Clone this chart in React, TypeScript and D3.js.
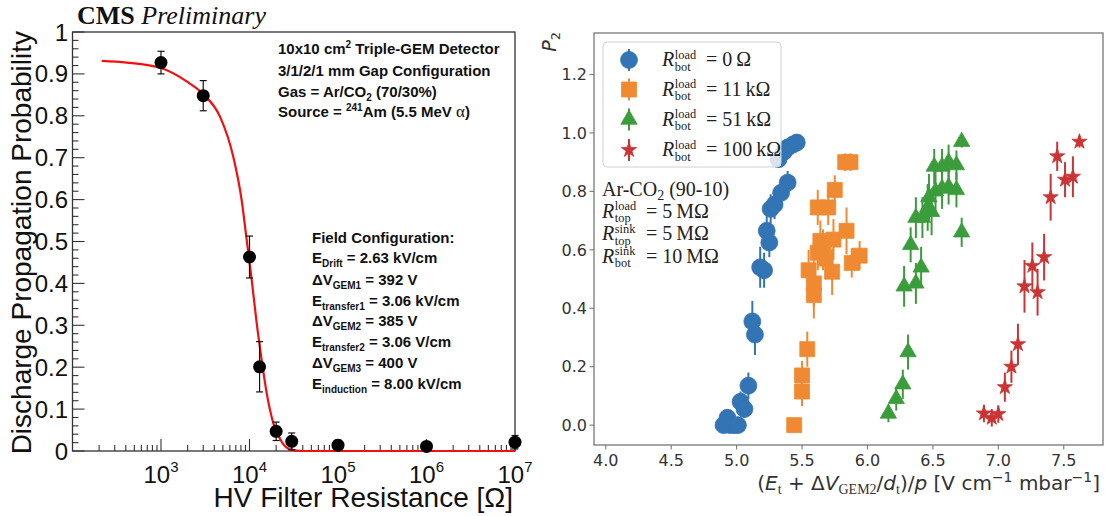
import React from 'react';
import * as d3 from 'd3';

// ---------------- Left panel data (CMS triple-GEM) ----------------
const resistances = [1e3, 3e3, 1e4, 1.3e4, 2e4, 3e4, 1e5, 1e6, 1e7];
const probabilities = [0.927, 0.848, 0.463, 0.201, 0.047, 0.023, 0.014, 0.011, 0.021];
const probErrors = [0.027, 0.036, 0.05, 0.06, 0.022, 0.02, 0.012, 0.01, 0.016];
const fitR = [214, 410, 1000, 1950, 3060, 4640, 6560, 8150, 9290, 10600, 12060, 13730, 15640, 18600, 23100, 28700, 40000, 1e7];
const fitP = [0.931, 0.927, 0.914, 0.882, 0.85, 0.798, 0.702, 0.599, 0.504, 0.408, 0.305, 0.217, 0.138, 0.066, 0.022, 0.004, 0, 0];
const leftXTickExps = [3, 4, 5, 6, 7];
const leftYTickLabels = ['0', '0.1', '0.2', '0.3', '0.4', '0.5', '0.6', '0.7', '0.8', '0.9', '1'];

// ---------------- Right panel data (P2 vs reduced field) ----------------
const blueX = [4.9, 4.93, 4.95, 4.98, 5.01, 5.03, 5.06, 5.09, 5.12, 5.14, 5.18, 5.21, 5.23, 5.25, 5.26, 5.29, 5.34, 5.39, 5.32, 5.36, 5.39, 5.43, 5.46];
const blueY = [0.0, 0.025, 0.0, 0.0, 0.0, 0.08, 0.055, 0.135, 0.355, 0.31, 0.54, 0.53, 0.665, 0.625, 0.74, 0.755, 0.795, 0.83, 0.91, 0.935, 0.95, 0.96, 0.967];
const blueErr = [0.01, 0.015, 0.01, 0.01, 0.01, 0.035, 0.03, 0.045, 0.07, 0.07, 0.07, 0.06, 0.05, 0.05, 0.05, 0.05, 0.04, 0.04, 0.03, 0.03, 0.02, 0.02, 0.015];

const orangeX = [5.44, 5.5, 5.5, 5.54, 5.55, 5.59, 5.59, 5.62, 5.64, 5.66, 5.68, 5.73, 5.74, 5.62, 5.7, 5.75, 5.84, 5.88, 5.94, 5.83, 5.87];
const orangeY = [0.0, 0.115, 0.17, 0.26, 0.53, 0.445, 0.485, 0.59, 0.63, 0.6, 0.57, 0.525, 0.635, 0.745, 0.745, 0.805, 0.665, 0.555, 0.58, 0.9, 0.9];
const orangeErr = [0.01, 0.05, 0.05, 0.06, 0.07, 0.08, 0.08, 0.06, 0.07, 0.07, 0.07, 0.08, 0.07, 0.06, 0.06, 0.05, 0.08, 0.05, 0.05, 0.03, 0.03];

const greenX = [6.16, 6.22, 6.27, 6.31, 6.28, 6.37, 6.41, 6.33, 6.37, 6.42, 6.46, 6.49, 6.47, 6.52, 6.57, 6.62, 6.68, 6.51, 6.57, 6.62, 6.68, 6.72, 6.72];
const greenY = [0.04, 0.09, 0.14, 0.25, 0.475, 0.485, 0.54, 0.617, 0.71, 0.71, 0.745, 0.73, 0.78, 0.8, 0.81, 0.815, 0.805, 0.885, 0.885, 0.9, 0.89, 0.97, 0.66];
const greenErr = [0.03, 0.04, 0.05, 0.06, 0.07, 0.07, 0.07, 0.06, 0.07, 0.07, 0.08, 0.08, 0.08, 0.07, 0.07, 0.06, 0.06, 0.06, 0.06, 0.06, 0.05, 0.02, 0.05];

const redX = [6.89, 6.95, 7.0, 7.05, 7.1, 7.15, 7.2, 7.26, 7.3, 7.35, 7.4, 7.45, 7.51, 7.57, 7.62];
const redY = [0.04, 0.025, 0.038, 0.13, 0.2, 0.277, 0.475, 0.545, 0.455, 0.575, 0.78, 0.92, 0.84, 0.85, 0.97];
const redErr = [0.03, 0.03, 0.03, 0.05, 0.055, 0.07, 0.09, 0.08, 0.08, 0.08, 0.08, 0.05, 0.06, 0.07, 0.02];

const rightXTicks = [4.0, 4.5, 5.0, 5.5, 6.0, 6.5, 7.0, 7.5];
const rightYTicks = [0.0, 0.2, 0.4, 0.6, 0.8, 1.0, 1.2];
const legendValues = ['0\u2009Ω', '11\u2009kΩ', '51\u2009kΩ', '100\u2009kΩ'];

const COLORS = ['#3274b4', '#f08a32', '#3b9c3b', '#cb3434'];

const sans = "'Liberation Sans', Arial, Helvetica, sans-serif";
const serif = "'Liberation Serif', 'Times New Roman', serif";
const mplSans = "'DejaVu Sans', sans-serif";

// ---------------- Left scales ----------------
const LX0 = 72.5, LX1 = 515, LY0 = 451, LY1 = 32;
const xL = d3.scaleLog().domain([100, 1e7]).range([LX0, LX1]);
const yL = d3.scaleLinear().domain([0, 1]).range([LY0, LY1]);

// ---------------- Right scales ----------------
const RX0 = 594, RX1 = 1103, RY0 = 445, RY1 = 33;
const xR = d3.scaleLinear().domain([3.91, 7.8]).range([RX0, RX1]);
const yR = d3.scaleLinear().domain([-0.068, 1.342]).range([RY0, RY1]);

function LeftPanel() {
  const fitLine = d3
    .line<number>()
    .x((_, i) => xL(fitR[i]))
    .y((d) => yL(d))
    .curve(d3.curveMonotoneX);
  const yMinor = d3.range(0, 51).map((i) => i / 50);
  const xMinor: number[] = [];
  for (let e = 2; e < 7; e++) for (let m = 2; m <= 9; m++) xMinor.push(m * Math.pow(10, e));

  const boldTxt = { fontFamily: sans, fontWeight: 700, fontSize: 15, fill: '#111' } as const;
  const fcX = 312;
  const fcLines: [string, string, string][] = [
    ['E', 'Drift', ' = 2.63 kV/cm'],
    ['ΔV', 'GEM1', ' = 392 V'],
    ['E', 'transfer1', ' = 3.06 kV/cm'],
    ['ΔV', 'GEM2', ' = 385 V'],
    ['E', 'transfer2', ' = 3.06 V/cm'],
    ['ΔV', 'GEM3', ' = 400 V'],
    ['E', 'induction', ' = 8.00 kV/cm'],
  ];
  const fcBase = [263, 284.5, 305.5, 326, 347, 368, 389];

  return (
    <g>
      {/* title */}
      <text x={77} y={24} fontFamily={serif} fontSize={26} fill="#111">
        <tspan fontWeight={700}>CMS</tspan>
        <tspan fontStyle="italic"> Preliminary</tspan>
      </text>

      {/* frame */}
      <rect x={LX0} y={LY1} width={LX1 - LX0} height={LY0 - LY1} fill="none" stroke="#333" strokeWidth={1.3} />

      {/* y ticks */}
      {yMinor.map((v, i) => (
        <line key={'ym' + i} x1={LX0} x2={LX0 + (i % 5 === 0 ? 12 : 6)} y1={yL(v)} y2={yL(v)} stroke="#333" strokeWidth={1.1} />
      ))}
      {leftYTickLabels.map((lab, i) => (
        <text key={'yl' + i} x={68} y={yL(i / 10) + 8.5} textAnchor="end" fontFamily={sans} fontSize={24} fill="#111">
          {lab}
        </text>
      ))}
      {/* x ticks */}
      {xMinor.map((v, i) => (
        <line key={'xm' + i} x1={xL(v)} x2={xL(v)} y1={LY0} y2={LY0 - 6} stroke="#333" strokeWidth={1.1} />
      ))}
      {leftXTickExps.map((e) => (
        <line key={'xM' + e} x1={xL(Math.pow(10, e))} x2={xL(Math.pow(10, e))} y1={LY0} y2={LY0 - 12} stroke="#333" strokeWidth={1.1} />
      ))}
      {leftXTickExps.map((e) => (
        <text key={'xl' + e} x={xL(Math.pow(10, e))} y={483} textAnchor="middle" fontFamily={sans} fontSize={24} fill="#111">
          10<tspan fontSize={15} dy={-11}>{e}</tspan>
        </text>
      ))}

      {/* axis titles */}
      <text x={513} y={507} textAnchor="end" fontFamily={sans} fontSize={28} fill="#111">
        HV Filter Resistance [Ω]
      </text>
      <text transform={`translate(31,31) rotate(-90)`} textAnchor="end" fontFamily={sans} fontSize={28} fill="#111">
        Discharge Propagation Probability
      </text>

      {/* fit curve */}
      <path d={fitLine(fitP) || ''} fill="none" stroke="#f01010" strokeWidth={2.2} />

      {/* data */}
      {resistances.map((r, i) => {
        const cx = xL(r);
        const y1 = yL(probabilities[i] + probErrors[i]);
        const y2 = yL(Math.max(0, probabilities[i] - probErrors[i]));
        return (
          <g key={'p' + i}>
            <line x1={cx} x2={cx} y1={y1} y2={y2} stroke="#111" strokeWidth={1.2} />
            <line x1={cx - 3.5} x2={cx + 3.5} y1={y1} y2={y1} stroke="#111" strokeWidth={1.2} />
            <line x1={cx - 3.5} x2={cx + 3.5} y1={y2} y2={y2} stroke="#111" strokeWidth={1.2} />
            <circle cx={cx} cy={yL(probabilities[i])} r={6.5} fill="#000" />
          </g>
        );
      })}

      {/* info text */}
      <text x={278} y={54} {...boldTxt}>
        10x10 cm<tspan fontSize={10} dy={-6}>2</tspan>
        <tspan dy={6}> Triple-GEM Detector</tspan>
      </text>
      <text x={278} y={75.5} {...boldTxt}>3/1/2/1 mm Gap Configuration</text>
      <text x={278} y={96.5} {...boldTxt}>
        Gas = Ar/CO<tspan fontSize={10} dy={4}>2</tspan>
        <tspan dy={-4}> (70/30%)</tspan>
      </text>
      <text x={278} y={117} {...boldTxt}>
        Source = <tspan fontSize={10} dy={-6}>241</tspan>
        <tspan dy={6}>Am (5.5 MeV </tspan>
        <tspan fontWeight={400} fontFamily={serif} fontSize={17}>α</tspan>)
      </text>

      <text x={fcX} y={242.5} {...boldTxt}>Field Configuration:</text>
      {fcLines.map((l, i) => (
        <text key={'fc' + i} x={fcX} y={fcBase[i]} {...boldTxt}>
          {l[0]}
          <tspan fontSize={10} dy={4}>{l[1]}</tspan>
          <tspan dy={-4}>{l[2]}</tspan>
        </text>
      ))}
    </g>
  );
}

function RLabel({ x, y, sup, sub, rest, fs = 20 }: { x: number; y: number; sup: string; sub: string; rest: string; fs?: number }) {
  const ss = fs * 0.62;
  const w = Math.max(sup.length, sub.length) * fs * 0.68 * 0.47;
  const ox = x + fs * 0.64;
  return (
    <g fontFamily={serif} fill="#222">
      <text x={x} y={y} fontSize={fs} fontStyle="italic">R</text>
      <text x={ox} y={y - fs * 0.36} fontSize={ss}>{sup}</text>
      <text x={ox} y={y + fs * 0.24} fontSize={ss}>{sub}</text>
      <text x={ox + w + fs * 0.28} y={y} fontSize={fs}>{rest}</text>
    </g>
  );
}

function marker(kind: number) {
  if (kind === 0) return d3.symbol(d3.symbolCircle, 225)() || '';
  if (kind === 1) return d3.symbol(d3.symbolSquare, 225)() || '';
  if (kind === 2) return d3.symbol(d3.symbolTriangle, 115)() || '';
  return d3.symbol(d3.symbolStar, 72)() || '';
}

function RightPanel() {
  const series = [
    { x: blueX, y: blueY, e: blueErr },
    { x: orangeX, y: orangeY, e: orangeErr },
    { x: greenX, y: greenY, e: greenErr },
    { x: redX, y: redY, e: redErr },
  ];
  const tickFmt = d3.format('.1f');
  const legendRows = [60, 89.5, 119.5, 150];
  return (
    <g>
      {/* frame */}
      <rect x={RX0} y={RY1} width={RX1 - RX0} height={RY0 - RY1} fill="none" stroke="#777" strokeWidth={1.3} />
      {rightXTicks.map((v) => (
        <g key={'rx' + v}>
          <line x1={xR(v)} x2={xR(v)} y1={RY0} y2={RY0 + 4.5} stroke="#777" strokeWidth={1.1} />
          <text x={xR(v)} y={466} textAnchor="middle" fontFamily={mplSans} fontSize={16} fill="#333">
            {tickFmt(v)}
          </text>
        </g>
      ))}
      {rightYTicks.map((v) => (
        <g key={'ry' + v}>
          <line x1={RX0 - 4.5} x2={RX0} y1={yR(v)} y2={yR(v)} stroke="#777" strokeWidth={1.1} />
          <text x={587} y={yR(v) + 5.8} textAnchor="end" fontFamily={mplSans} fontSize={16} fill="#333">
            {tickFmt(v)}
          </text>
        </g>
      ))}

      {/* axis labels */}
      <text transform="translate(556,32) rotate(-90)" textAnchor="end" fontFamily={mplSans} fontSize={19} fill="#333">
        <tspan fontStyle="italic">P</tspan>
        <tspan fontSize={13} dy={4}>2</tspan>
      </text>
      <text x={1100} y={490} textAnchor="end" fontFamily={mplSans} fontSize={20} fill="#333">
        (<tspan fontStyle="italic">E</tspan>
        <tspan fontFamily={serif} fontSize={14} dy={4}>t</tspan>
        <tspan dy={-4}> + Δ</tspan>
        <tspan fontStyle="italic">V</tspan>
        <tspan fontFamily={serif} fontSize={14} dy={4}>GEM2</tspan>
        <tspan dy={-4}>/</tspan>
        <tspan fontStyle="italic">d</tspan>
        <tspan fontFamily={serif} fontSize={14} dy={4}>t</tspan>
        <tspan dy={-4}>)/</tspan>
        <tspan fontStyle="italic">p</tspan>
        <tspan> [V cm</tspan>
        <tspan fontSize={14} dy={-8}>−1</tspan>
        <tspan dy={8}> mbar</tspan>
        <tspan fontSize={14} dy={-8}>−1</tspan>
        <tspan dy={8}>]</tspan>
      </text>

      {/* data */}
      {series.map((s, k) => (
        <g key={'s' + k} fill={COLORS[k]} stroke={COLORS[k]}>
          {s.x.map((xv, i) => (
            <line key={'e' + i} x1={xR(xv)} x2={xR(xv)} y1={yR(s.y[i] + s.e[i])} y2={yR(s.y[i] - s.e[i])} strokeWidth={2} />
          ))}
          {s.x.map((xv, i) => (
            <path key={'m' + i} d={marker(k)} transform={`translate(${xR(xv)},${yR(s.y[i])})`} strokeWidth={0.8} />
          ))}
        </g>
      ))}

      {/* legend */}
      <rect x={603} y={42} width={178} height={125} rx={4} fill="#fff" fillOpacity={0.8} stroke="#d0d0d0" strokeWidth={1} />
      {legendValues.map((lab, k) => (
        <g key={'lg' + k}>
          <line x1={629} x2={629} y1={legendRows[k] - 11} y2={legendRows[k] + 11} stroke={COLORS[k]} strokeWidth={2} />
          <path d={marker(k)} transform={`translate(629,${legendRows[k]})`} fill={COLORS[k]} stroke={COLORS[k]} strokeWidth={0.8} />
          <RLabel x={662} y={legendRows[k] + 6} sup="load" sub="bot" rest={'= ' + lab} fs={20} />
        </g>
      ))}

      {/* annotation */}
      <text x={602} y={196} fontFamily={serif} fontSize={20} fill="#222">
        Ar-CO<tspan fontSize={14} dy={4}>2</tspan>
        <tspan dy={-4}> (90-10)</tspan>
      </text>
      <RLabel x={602} y={217.5} sup="load" sub="top" rest={'= 5\u2009MΩ'} fs={20} />
      <RLabel x={602} y={240} sup="sink" sub="top" rest={'= 5\u2009MΩ'} fs={20} />
      <RLabel x={602} y={262.5} sup="sink" sub="bot" rest={'= 10\u2009MΩ'} fs={20} />
    </g>
  );
}

export default function App() {
  return (
    <svg
      width={1115}
      height={516}
      viewBox="0 0 1115 516"
      style={{ position: 'absolute', left: 0, top: 0, background: '#fff' }}
      xmlns="http://www.w3.org/2000/svg"
    >
      <rect width={1115} height={516} fill="#fff" />
      <LeftPanel />
      <RightPanel />
    </svg>
  );
}
